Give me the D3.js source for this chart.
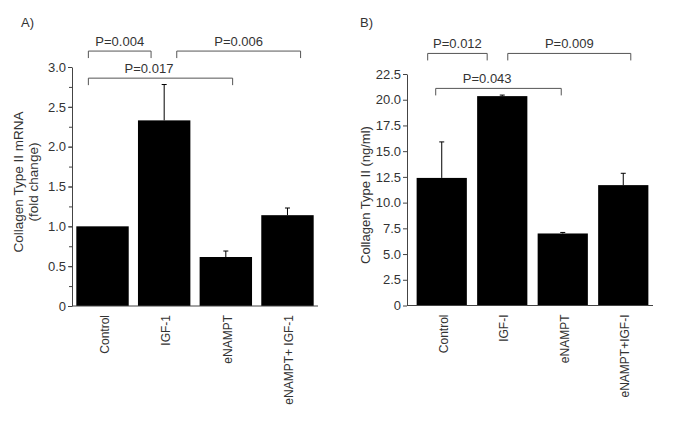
<!DOCTYPE html>
<html>
<head>
<meta charset="utf-8">
<script src="https://cdn.jsdelivr.net/npm/d3@7"></script>
<style>
  body { margin: 0; background: #fff; }
  svg { font-family: "Liberation Sans", Arial, sans-serif; }
</style>
</head>
<body>
<div id="chart"></div>
<script>
// panel A : mRNA fold change
const categoriesA = ["Control", "IGF-1", "eNAMPT", "eNAMPT+ IGF-1"];
const valuesA = [1.0, 2.33, 0.615, 1.14];
const errTopA = [null, 2.78, 0.69, 1.23];
const ticksA = [0, 0.5, 1.0, 1.5, 2.0, 2.5, 3.0];
const tickLabelsA = ["0", "0.5", "1.0", "1.5", "2.0", "2.5", "3.0"];
const bracketsA = [
  {label: "P=0.004", from: "Control", fromAt: 0.23, to: "IGF-1", toAt: 0.25, y: 3.2, textAt: 0.5},
  {label: "P=0.006", from: "IGF-1", fromAt: 0.74, to: "eNAMPT+ IGF-1", toAt: 0.75, y: 3.2, textAt: 0.5},
  {label: "P=0.017", from: "Control", fromAt: 0.23, to: "eNAMPT", toAt: 0.63, y: 2.86, textAt: 0.42}
];

// panel B : protein ng/ml
const categoriesB = ["Control", "IGF-I", "eNAMPT", "eNAMPT+IGF-I"];
const valuesB = [12.4, 20.35, 7.0, 11.7];
const errTopB = [15.9, 20.45, 7.1, 12.85];
const ticksB = [0, 2.5, 5.0, 7.5, 10.0, 12.5, 15.0, 17.5, 20.0, 22.5];
const tickLabelsB = ["0", "2.5", "5.0", "7.5", "10.0", "12.5", "15.0", "17.5", "20.0", "22.5"];
const bracketsB = [
  {label: "P=0.012", from: "Control", fromAt: 0.22, to: "IGF-I", toAt: 0.2, y: 24.5, textAt: 0.5},
  {label: "P=0.009", from: "IGF-I", fromAt: 0.61, to: "eNAMPT+IGF-I", toAt: 0.65, y: 24.5, textAt: 0.5},
  {label: "P=0.043", from: "Control", fromAt: 0.38, to: "eNAMPT", toAt: 0.47, y: 21.1, textAt: 0.41}
];

const W = 685, H = 430;
const textCol = "#333";
const axisCol = "#444";

const svg = d3.select("#chart").append("svg")
  .attr("width", W).attr("height", H);

function drawPanel(opt) {
  const g = svg.append("g");

  const x = d3.scaleBand()
    .domain(opt.categories)
    .range(opt.bandRange)
    .paddingInner(opt.padIn)
    .paddingOuter(opt.padOut);

  const y = d3.scaleLinear()
    .domain([0, opt.max])
    .range(opt.yRange);

  // minor ticks
  if (opt.minor) {
    g.append("g")
      .attr("transform", `translate(${opt.axisX},0)`)
      .call(d3.axisLeft(y).tickValues(d3.range(0, opt.max + 0.001, opt.minor)).tickSize(3).tickFormat(""))
      .call(a => a.select(".domain").remove())
      .call(a => a.selectAll("line").attr("stroke", axisCol));
  }

  // y axis
  const yAxis = g.append("g")
    .attr("transform", `translate(${opt.axisX},0)`)
    .call(d3.axisLeft(y)
      .tickValues(opt.ticks)
      .tickFormat((d, i) => opt.tickLabels[i])
      .tickSize(4)
      .tickSizeOuter(0)
      .tickPadding(2));
  yAxis.select(".domain").attr("stroke", axisCol);
  yAxis.selectAll("line").attr("stroke", axisCol);
  yAxis.selectAll("text")
    .attr("fill", textCol)
    .style("font-size", "13px");

  // bars
  g.selectAll("rect.bar")
    .data(opt.values)
    .join("rect")
    .attr("class", "bar")
    .attr("x", (d, i) => x(opt.categories[i]))
    .attr("width", x.bandwidth())
    .attr("y", d => y(d))
    .attr("height", d => y(0) - y(d))
    .attr("fill", "#000");

  // error bars (upper only)
  const errs = opt.errTop.map((e, i) => ({e, v: opt.values[i], c: opt.categories[i]}))
    .filter(d => d.e != null);
  g.selectAll("line.err")
    .data(errs)
    .join("line")
    .attr("x1", d => x(d.c) + x.bandwidth() / 2)
    .attr("x2", d => x(d.c) + x.bandwidth() / 2)
    .attr("y1", d => y(d.v))
    .attr("y2", d => y(d.e))
    .attr("stroke", "#000");
  g.selectAll("line.cap")
    .data(errs)
    .join("line")
    .attr("x1", d => x(d.c) + x.bandwidth() / 2 - 2.5)
    .attr("x2", d => x(d.c) + x.bandwidth() / 2 + 2.5)
    .attr("y1", d => y(d.e))
    .attr("y2", d => y(d.e))
    .attr("stroke", "#000");

  // x axis line
  g.append("line")
    .attr("x1", opt.axisX).attr("x2", opt.axisEnd)
    .attr("y1", y(0)).attr("y2", y(0))
    .attr("stroke", axisCol);

  // category labels (rotated)
  g.selectAll("text.cat")
    .data(opt.categories)
    .join("text")
    .attr("transform", d => `translate(${x(d) + x.bandwidth() / 2},${y(0) + 9}) rotate(-90)`)
    .attr("dy", "0.5em")
    .attr("text-anchor", "end")
    .attr("fill", textCol)
    .style("font-size", "12px")
    .text(d => d);

  // significance brackets
  const drop = 7;
  opt.brackets.forEach(b => {
    const x1 = x(b.from) + b.fromAt * x.bandwidth();
    const x2 = x(b.to) + b.toAt * x.bandwidth();
    const yy = y(b.y);
    g.append("path")
      .attr("d", `M${x1},${yy + drop}V${yy}H${x2}V${yy + drop}`)
      .attr("fill", "none")
      .attr("stroke", "#555");
    g.append("text")
      .attr("x", x1 + (x2 - x1) * b.textAt)
      .attr("y", yy - 5)
      .attr("text-anchor", "middle")
      .attr("fill", textCol)
      .style("font-size", "13px")
      .text(b.label);
  });

  // y title
  const yt = g.append("text")
    .attr("transform", `translate(${opt.titleX},${opt.titleY}) rotate(-90)`)
    .attr("text-anchor", "middle")
    .attr("fill", textCol)
    .style("font-size", opt.titleSize);
  opt.yTitle.forEach((t, i) => {
    yt.append("tspan")
      .attr("x", 0)
      .attr("dy", i === 0 ? "0.35em" : "1.15em")
      .text(t);
  });

  // panel letter
  g.append("text")
    .attr("x", opt.letterX).attr("y", 27)
    .attr("fill", textCol)
    .style("font-size", "13px")
    .text(opt.letter);
}

drawPanel({
  categories: categoriesA, values: valuesA, errTop: errTopA,
  ticks: ticksA, tickLabels: tickLabelsA, brackets: bracketsA,
  max: 3.0, minor: 0.25,
  bandRange: [72, 318], padIn: 0.15, padOut: 0.07,
  yRange: [306, 67], axisX: 72, axisEnd: 318,
  yTitle: ["Collagen Type II mRNA", "(fold change)"], titleX: 18, titleY: 182, titleSize: "13.5px",
  letter: "A)", letterX: 21
});

drawPanel({
  categories: categoriesB, values: valuesB, errTop: errTopB,
  ticks: ticksB, tickLabels: tickLabelsB, brackets: bracketsB,
  max: 22.5, minor: null,
  bandRange: [413, 652], padIn: 0.17, padOut: 0.06,
  yRange: [305.5, 74], axisX: 407, axisEnd: 653,
  yTitle: ["Collagen Type II (ng/ml)"], titleX: 365, titleY: 195, titleSize: "13px",
  letter: "B)", letterX: 360
});
</script>
</body>
</html>
